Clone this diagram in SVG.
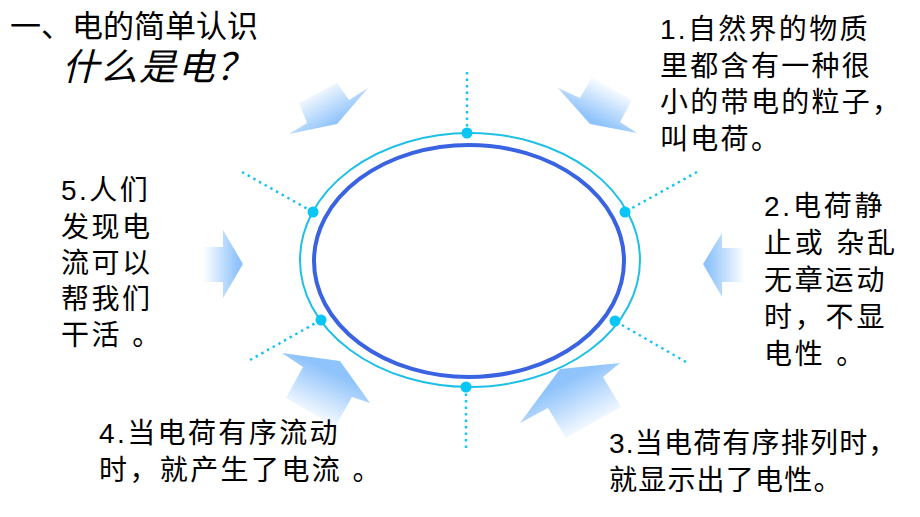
<svg xmlns="http://www.w3.org/2000/svg" width="920" height="517" viewBox="0 0 920 517">
<style>
.t{font-family:"Liberation Sans","Noto Sans CJK SC",sans-serif;fill:#000}
.dot{stroke:#1cc3ee;stroke-width:2.5;stroke-dasharray:2.5 4;fill:none}
.nd{fill:#08c6f6}
</style>
<defs>
<linearGradient id="gL" gradientUnits="userSpaceOnUse" x1="203" y1="0" x2="238" y2="0"><stop offset="0" stop-color="#fff"/><stop offset="1" stop-color="#8fc3fb"/></linearGradient>
<linearGradient id="gR" gradientUnits="userSpaceOnUse" x1="745" y1="0" x2="708" y2="0"><stop offset="0" stop-color="#fff"/><stop offset="1" stop-color="#8fc3fb"/></linearGradient>
<linearGradient id="gTL" gradientUnits="userSpaceOnUse" x1="314" y1="88" x2="335" y2="124"><stop offset="0" stop-color="#fff"/><stop offset="1" stop-color="#8fc3fb"/></linearGradient>
<linearGradient id="gTR" gradientUnits="userSpaceOnUse" x1="614" y1="86" x2="596" y2="122"><stop offset="0" stop-color="#fff"/><stop offset="1" stop-color="#8fc3fb"/></linearGradient>
<linearGradient id="gBL" gradientUnits="userSpaceOnUse" x1="306" y1="418" x2="328" y2="370"><stop offset="0" stop-color="#fff"/><stop offset="1" stop-color="#8fc3fb"/></linearGradient>
<linearGradient id="gBR" gradientUnits="userSpaceOnUse" x1="598" y1="428" x2="572" y2="378"><stop offset="0" stop-color="#fff"/><stop offset="1" stop-color="#8fc3fb"/></linearGradient>
</defs>
<rect width="920" height="517" fill="#fff"/>

<g id="title">
<text class="t" x="10" y="37" font-size="31" letter-spacing="0">一、电的简单认识</text>
<text class="t" x="62" y="80" font-size="37" font-style="italic" letter-spacing="1.5">什么是电？</text>
</g>

<g id="connectors">
<line class="dot" x1="467" y1="72" x2="467" y2="133"/>
<line class="dot" x1="466" y1="387" x2="466" y2="452"/>
<line class="dot" x1="242" y1="172" x2="313" y2="212"/>
<line class="dot" x1="697" y1="172" x2="625" y2="212"/>
<line class="dot" x1="250" y1="360" x2="321" y2="320"/>
<line class="dot" x1="686" y1="362" x2="615" y2="321"/>
</g>

<g id="ring">
<ellipse cx="470" cy="260" rx="170" ry="127" fill="none" stroke="#1ec0e6" stroke-width="2"/>
<ellipse cx="469" cy="261" rx="155" ry="116" fill="none" stroke="#3a63e2" stroke-width="4"/>
<circle class="nd" cx="467" cy="133" r="5.5"/>
<circle class="nd" cx="313" cy="212" r="5.5"/>
<circle class="nd" cx="625" cy="212" r="5.5"/>
<circle class="nd" cx="321" cy="320" r="5.5"/>
<circle class="nd" cx="615" cy="321" r="5.5"/>
<circle class="nd" cx="466" cy="387" r="5.5"/>
</g>

<g id="arrows">
<polygon fill="url(#gTL)" points="337,83 349,100 368,88 337,124 289,134 307,123 299,103"/>
<polygon fill="url(#gTR)" points="592,77 580,98 558,88 590,124 637,133 620,122 632,100"/>
<polygon fill="url(#gL)" points="200,247 223,247 223,230 243,264 223,298 223,282 200,282"/>
<polygon fill="url(#gR)" points="745,248 722,248 722,233 703,264 722,297 722,282 745,282"/>
<polygon fill="url(#gBL)" points="286,398 303,367 282,353 340,361 370,403 352,397 335,427"/>
<polygon fill="url(#gBR)" points="566,438 548,408 520,423 560,369 620,363 603,377 621,407"/>
</g>

<g id="n1">
<text class="t" font-size="28" letter-spacing="2.3"><tspan x="660" y="39">1.自然界的物质</tspan><tspan x="660" y="76">里都含有一种很</tspan><tspan x="660" y="112">小的带电的粒子，</tspan><tspan x="660" y="149">叫电荷。</tspan></text>
</g>
<g id="n2">
<text class="t" font-size="28" letter-spacing="2.8"><tspan x="764" y="216">2.电荷静</tspan><tspan x="764" y="253">止或 杂乱</tspan><tspan x="764" y="290">无章运动</tspan><tspan x="764" y="327">时，不显</tspan><tspan x="764" y="364">电性 。</tspan></text>
</g>
<g id="n3">
<text class="t" font-size="28" letter-spacing="1.2"><tspan x="609" y="453">3.当电荷有序排列时，</tspan><tspan x="609" y="490">就显示出了电性。</tspan></text>
</g>
<g id="n4">
<text class="t" font-size="28" letter-spacing="2.4"><tspan x="99" y="443">4.当电荷有序流动</tspan><tspan x="99" y="480">时，就产生了电流 。</tspan></text>
</g>
<g id="n5">
<text class="t" font-size="28" letter-spacing="2.5"><tspan x="61" y="200">5.人们</tspan><tspan x="61" y="237">发现电</tspan><tspan x="61" y="273">流可以</tspan><tspan x="61" y="309">帮我们</tspan><tspan x="61" y="345">干活 。</tspan></text>
</g>
</svg>
